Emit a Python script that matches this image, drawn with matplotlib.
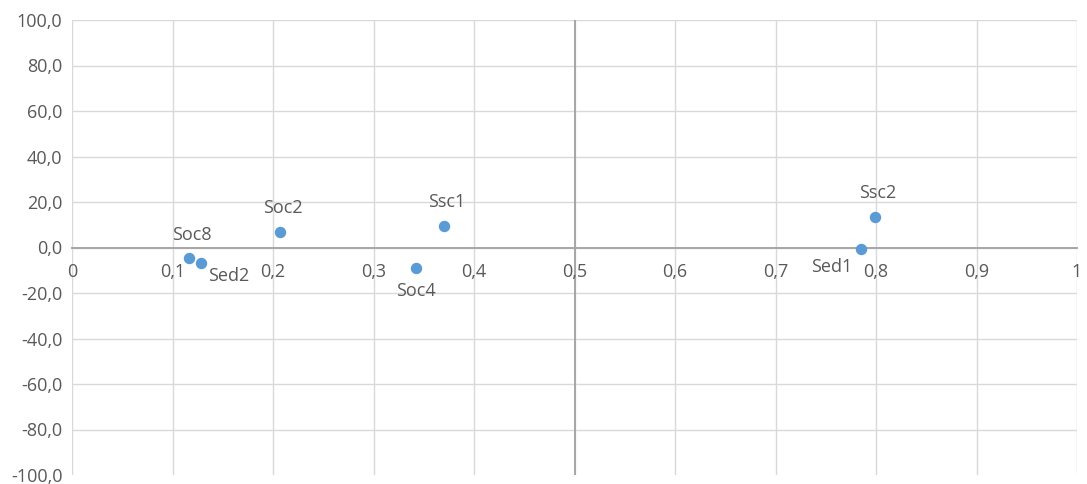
#!/usr/bin/env python3
import numpy as np
import matplotlib
matplotlib.use('Agg')
import matplotlib.pyplot as plt

# Data
names = ['Soc8', 'Sed2', 'Soc2', 'Ssc1', 'Soc4', 'Sed1', 'Ssc2']
xs = [0.116, 0.128, 0.207, 0.370, 0.342, 0.785, 0.799]
ys = [-4.8, -6.6, 7.0, 9.6, -9.2, -0.8, 13.5]
# label placement: 'above', 'below', 'right', 'left'
where = ['above', 'right', 'above', 'above', 'below', 'left', 'above']

xticks = [0, 0.1, 0.2, 0.3, 0.4, 0.5, 0.6, 0.7, 0.8, 0.9, 1.0]
xticklabels = ['0', '0,1', '0,2', '0,3', '0,4', '0,5', '0,6', '0,7', '0,8', '0,9', '1']
yticks = [-100, -80, -60, -40, -20, 0, 20, 40, 60, 80, 100]
yticklabels = ['%.1f' % v for v in yticks]
yticklabels = [s.replace('.', ',') for s in yticklabels]

# Style
txt = '#595959'
grid = '#d9d9d9'
axc = '#a6a6a6'
dot = '#5b9bd5'
plt.rcParams['font.family'] = ['Open Sans', 'DejaVu Sans']
fs = 13


def main():
    fig = plt.figure(figsize=(10.87, 4.84), dpi=100)
    ax = fig.add_axes((72/1087, 1 - 475/484, 1005/1087, 455/484))
    ax.set_xlim(0, 1)
    ax.set_ylim(-100, 100)

    ax.set_xticks(xticks)
    ax.set_xticklabels(xticklabels)
    ax.set_yticks(yticks)
    ax.set_yticklabels(yticklabels)
    ax.tick_params(axis='both', length=0, labelsize=fs, labelcolor=txt)
    ax.tick_params(axis='x', pad=11)
    ax.tick_params(axis='y', pad=7)

    # grid
    for v in xticks:
        ax.axvline(v, color=grid, lw=1, zorder=0)
    for v in yticks[1:]:
        ax.axhline(v, color=grid, lw=1, zorder=0)

    for s in ['top', 'right', 'left']:
        ax.spines[s].set_visible(False)
    ax.spines['bottom'].set_position(('data', 0))
    ax.spines['bottom'].set_color(axc)
    ax.spines['bottom'].set_linewidth(1.4)
    ax.axvline(0.5, color=axc, lw=1.4, zorder=1)

    ax.scatter(xs, ys, s=52, color=dot, zorder=3, clip_on=False)

    offs = {'above': ((2, 17), 'center', 'center'),
            'below': ((0, -16), 'center', 'center'),
            'right': ((5, -10), 'left', 'center'),
            'left': ((-6, -13), 'right', 'center')}
    for n, x, y, w in zip(names, xs, ys, where):
        o, ha, va = offs[w]
        ax.annotate(n, (x, y), xytext=o, textcoords='offset points',
                    ha=ha, va=va, fontsize=fs, color=txt)

    fig.savefig('out.png', dpi=100)


if (__name__ == "__main__"):
    main()
